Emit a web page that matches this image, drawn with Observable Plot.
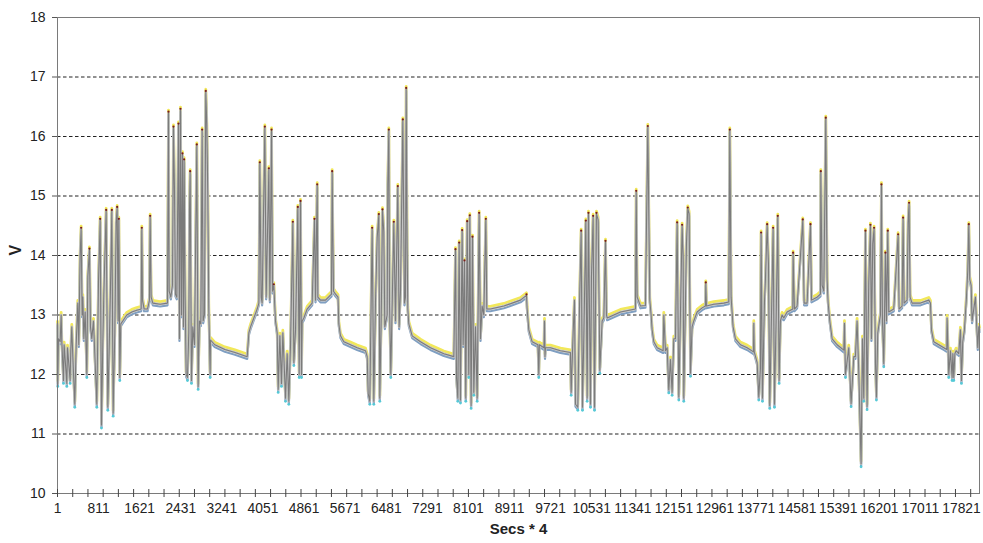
<!DOCTYPE html>
<html><head><meta charset="utf-8">
<script src="https://cdn.jsdelivr.net/npm/d3@7"></script>
<script src="https://cdn.jsdelivr.net/npm/@observablehq/plot@0.6"></script>
<style>body{margin:0;background:#fff;} #chart{width:983px;height:543px;}</style>
</head><body><div id="chart"></div>
<script>
// sample index (Secs * 4) and voltage
const sampleIndex = [
  1,7,20,53,73,86,119,132,185,198,
  250,263,283,303,342,369,401,421,447,467,
  487,500,520,546,579,599,631,651,677,710,
  743,776,809,842,868,894,914,960,993,1019,
  1045,1072,1098,1131,1157,1177,1196,1210,1229,1249,
  1288,1367,1466,1564,1650,1663,1676,1709,1775,1814,
  1827,1847,1880,2024,2169,2189,2202,2235,2267,2287,
  2307,2326,2353,2386,2405,2425,2445,2464,2484,2497,
  2517,2537,2563,2589,2603,2616,2642,2668,2701,2747,
  2773,2799,2826,2852,2872,2898,2924,2944,2964,2983,
  3010,3017,3100,3300,3500,3740,3773,3806,3871,3937,
  3970,3989,4016,4035,4088,4114,4167,4187,4220,4239,
  4265,4298,4331,4351,4384,4416,4443,4463,4495,4528,
  4561,4594,4640,4660,4693,4738,4765,4791,4811,4824,
  4857,4922,5021,5067,5087,5120,5133,5185,5284,5402,
  5415,5441,5481,5530,5546,5579,5645,5776,5908,6072,
  6105,6125,6157,6203,6236,6269,6302,6335,6354,6381,
  6407,6433,6453,6499,6512,6532,6545,6571,6630,6663,
  6709,6735,6762,6808,6840,6860,6874,6893,6906,6926,
  6992,7156,7353,7616,7813,7846,7866,7892,7918,7944,
  7977,7997,8023,8049,8076,8108,8128,8154,8181,8207,
  8240,8273,8312,8339,8371,8404,8444,8463,8535,8799,
  9127,9245,9258,9291,9357,9470,9488,9500,9590,9600,
  9610,9620,9718,9915,10112,10126,10165,10191,10211,10257,
  10296,10323,10349,10375,10415,10441,10467,10507,10526,10559,
  10586,10625,10658,10691,10737,10770,10803,10822,10836,11098,
  11394,11408,11427,11493,11590,11637,11676,11702,11722,11755,
  11821,11939,11952,11985,12018,12050,12083,12116,12149,12182,
  12215,12248,12280,12313,12333,12346,12379,12399,12425,12451,
  12478,12510,12543,12609,12708,12773,12780,12793,12938,13135,
  13233,13253,13279,13318,13364,13463,13594,13720,13726,13735,
  13792,13824,13857,13870,13897,13936,13956,13989,14015,14041,
  14068,14107,14133,14166,14199,14225,14251,14284,14317,14383,
  14495,14501,14527,14580,14692,14718,14777,14843,14863,14974,
  15040,15047,15073,15106,15145,15171,15191,15224,15270,15368,
  15500,15513,15533,15598,15644,15697,15729,15762,15795,15841,
  15868,15894,15927,15959,15992,16025,16045,16071,16097,16124,
  16143,16170,16203,16223,16242,16262,16288,16321,16341,16367,
  16387,16485,16571,16590,16649,16669,16689,16748,16768,16787,
  16807,16846,17011,17175,17208,17228,17274,17372,17471,17530,
  17536,17556,17569,17602,17635,17650,17668,17690,17714,17766,
  17799,17819,17845,17878,17918,17944,17964,17983,18010,18029,
  18062,18095,18115,18141,18161,18175
];
const voltage = [
  12.85,11.85,12.6,12.55,13.0,12.55,11.9,12.5,11.85,12.45,
  11.9,12.4,12.8,12.3,11.5,12.5,13.2,12.5,14.0,14.45,
  13.0,13.3,12.6,13.05,12.0,13.65,14.1,12.8,12.6,12.9,
  12.2,11.5,13.55,14.6,11.15,12.5,13.35,14.75,11.45,12.4,
  13.45,14.75,11.35,12.7,14.55,14.8,12.9,14.6,11.95,12.85,
  12.9,13.0,13.05,13.08,13.1,14.45,13.25,13.1,13.1,13.25,
  14.65,13.3,13.2,13.18,13.2,16.4,13.4,13.3,13.5,16.15,
  15.1,13.35,13.3,16.2,12.6,16.45,13.0,15.7,12.8,15.6,
  13.3,12.0,11.95,12.7,14.75,15.4,11.9,12.8,12.5,15.85,
  11.8,12.9,12.85,16.1,12.9,13.0,16.75,16.2,15.0,13.1,
  12.0,12.58,12.5,12.42,12.37,12.3,12.7,12.8,12.95,13.1,
  13.2,15.55,13.3,13.2,16.15,13.3,15.45,13.25,16.1,13.4,
  13.5,12.9,12.7,11.75,12.65,11.85,12.7,12.3,11.6,12.35,
  11.55,12.5,14.55,12.2,12.75,14.8,12.0,14.9,12.0,12.9,
  12.95,13.1,13.2,14.6,13.25,15.18,13.3,13.25,13.25,13.35,
  15.4,13.4,13.35,13.3,12.85,12.65,12.55,12.5,12.45,12.4,
  12.3,11.68,11.55,14.45,11.55,13.22,14.3,14.68,11.6,12.9,
  14.76,14.4,12.8,13.0,15.2,16.1,13.2,12.0,14.55,12.9,
  15.15,12.8,13.4,16.27,13.2,13.3,16.8,14.1,13.1,12.85,
  12.65,12.55,12.45,12.35,12.3,14.09,11.95,11.6,14.2,11.57,
  14.41,12.5,13.9,11.6,14.56,12.0,14.66,11.48,14.3,11.7,
  12.8,11.6,14.7,12.6,13.15,13.0,14.6,13.1,13.1,13.15,
  13.25,13.33,13.1,12.75,12.55,12.5,12.0,12.5,12.45,12.9,
  12.3,12.45,12.45,12.4,12.37,11.7,12.7,13.25,11.5,11.45,
  13.4,14.4,11.45,12.6,14.57,11.6,14.7,11.5,13.64,14.65,
  11.45,14.7,14.6,12.07,12.9,12.95,14.23,13.0,12.95,13.05,
  13.1,15.07,13.3,13.15,13.16,16.16,13.25,13.0,12.75,12.55,
  12.45,12.4,13.0,12.4,12.45,11.74,12.25,11.7,12.6,12.6,
  14.54,11.62,13.0,14.5,13.99,11.6,13.2,14.21,14.79,14.7,
  12.02,12.8,12.9,13.05,13.12,13.15,13.53,13.15,13.18,13.2,
  13.22,16.1,13.3,12.8,12.6,12.5,12.45,12.38,12.86,12.38,
  12.2,11.62,12.1,14.37,11.6,13.2,13.61,14.51,13.86,11.48,
  12.69,14.45,11.5,12.9,14.65,11.9,12.9,13.0,12.95,13.05,
  13.1,14.03,13.1,13.15,14.59,13.2,13.2,14.51,13.25,13.3,
  13.35,15.4,13.5,13.4,16.3,13.6,13.2,12.9,12.6,12.5,
  12.41,12.86,12.0,12.45,11.51,12.3,12.3,12.9,12.05,10.5,
  12.6,11.6,14.4,11.46,13.53,14.5,12.6,14.2,14.45,12.2,
  11.62,12.7,12.9,13.0,15.18,12.9,12.18,14.03,12.9,14.4,
  13.05,13.1,14.34,13.1,13.15,14.62,13.2,13.25,14.55,14.87,
  13.3,13.2,13.2,13.25,13.2,12.75,12.55,12.5,12.45,12.42,
  12.95,12.4,12.0,12.4,11.95,12.35,11.95,12.35,12.4,12.35,
  12.75,11.9,12.55,12.75,13.3,13.75,14.51,13.6,13.5,12.9,
  13.1,13.3,12.9,12.45,12.8,12.75
];
const yTicks = [10, 11, 12, 13, 14, 15, 16, 17, 18];
const gridLevels = [11, 12, 13, 14, 15, 16, 17];
const xTickLabels = [1, 811, 1621, 2431, 3241, 4051, 4861, 5671, 6481, 7291, 8101, 8911, 9721, 10531, 11341, 12151, 12961, 13771, 14581, 15391, 16201, 17011, 17821];
const xMinorStep = 300;
const xMax = 18175;

const rows = sampleIndex.map((s, i) => ({s, v: voltage[i]}));
const peaks = rows.filter((d, i) => i > 0 && i < rows.length - 1 && d.v > rows[i-1].v && d.v > rows[i+1].v && d.v > 13.3);
const dips = rows.filter((d, i) => i > 0 && i < rows.length - 1 && d.v < rows[i-1].v && d.v < rows[i+1].v && d.v < 12.3);
const minorTicks = d3.range(1, xMax, xMinorStep);

const chart = Plot.plot({
  width: 983, height: 543,
  marginLeft: 57, marginRight: 4, marginTop: 17, marginBottom: 50,
  style: {fontFamily: "'Liberation Sans', Arial, sans-serif", background: "#fff", color: "#222"},
  x: {domain: [1, xMax]},
  y: {domain: [10, 18]},
  marks: [
    Plot.ruleY(gridLevels, {stroke: "#222", strokeDasharray: "3.5,2.5", strokeWidth: 1}),
    Plot.line(rows, {x: "s", y: "v", stroke: "#f2e85a", strokeWidth: 2.8, dy: -2.6}),
    Plot.line(rows, {x: "s", y: "v", stroke: "#7f9fc2", strokeWidth: 2.2, dy: 2.2}),
    Plot.line(rows, {x: "s", y: "v", stroke: "#c4c4c4", strokeWidth: 2.6}),
    Plot.line(rows, {x: "s", y: "v", stroke: "#7b7b7b", strokeWidth: 1.1}),
    Plot.dot(peaks, {x: "s", y: "v", r: 1.1, fill: "#7a1c1c", dy: -1}),
    Plot.dot(dips, {x: "s", y: "v", r: 1.4, fill: "#55c9d6", dy: 3}),
    Plot.frame({stroke: "#7a7a7a"}),
    Plot.ruleX(minorTicks, {x: d => d, y1: 10, y2: 10, insetTop: -4, insetBottom: -4, stroke: "#444"}),
    Plot.axisY(yTicks, {tickSize: 5, tickPadding: 7, fontSize: 14, label: null, stroke: "#555", tickFormat: d => String(d)}),
    Plot.axisX(xTickLabels, {tickSize: 0, tickPadding: 10, fontSize: 13.8, label: null, tickFormat: d => String(d)}),
    Plot.text(["Secs * 4"], {text: d => d, frameAnchor: "bottom", dy: 40, fontWeight: "bold", fontSize: 15}),
    Plot.text(["V"], {text: d => d, frameAnchor: "left", dx: -42, rotate: -90, fontWeight: "bold", fontSize: 16})
  ]
});
document.getElementById("chart").append(chart);
</script></body></html>
